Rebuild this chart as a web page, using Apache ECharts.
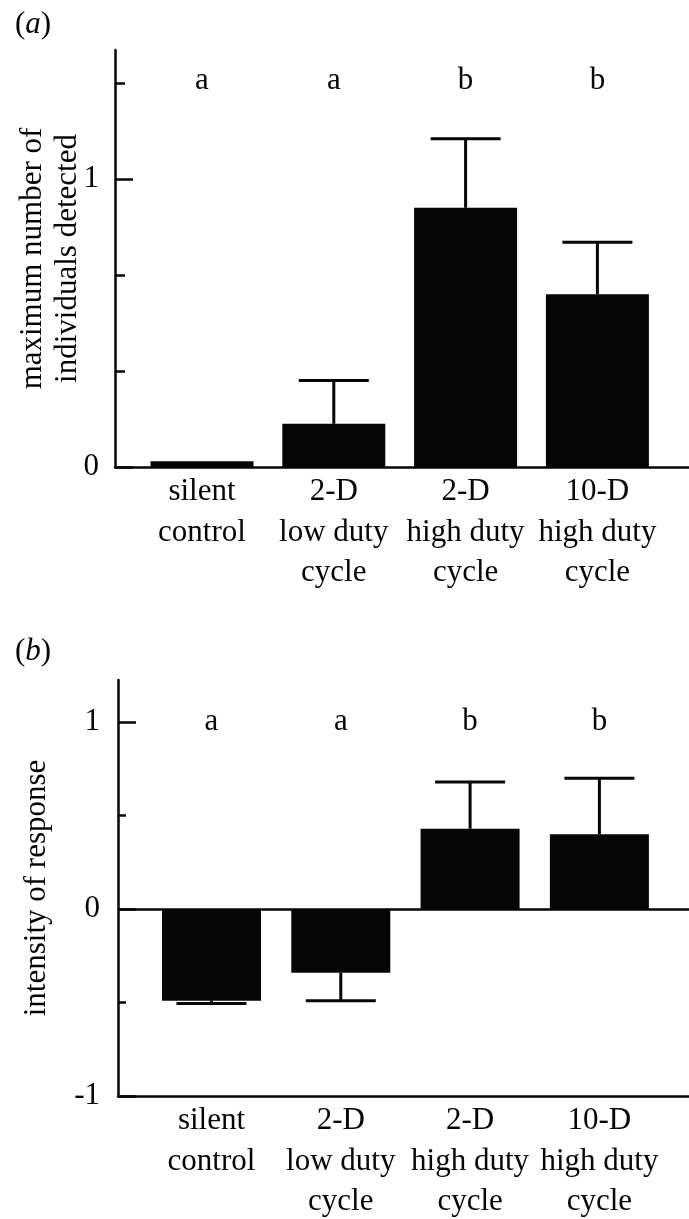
<!DOCTYPE html>
<html>
<head>
<meta charset="utf-8">
<script src="https://cdn.jsdelivr.net/npm/echarts@6/dist/echarts.min.js"></script>
<style>
html,body{margin:0;padding:0;background:#fff;}
#c{width:689px;height:1219px;}
</style>
</head>
<body>
<div id="c"></div>
<script>
// ---- data ----
const categories = ['silent\ncontrol', '2-D\nlow duty\ncycle', '2-D\nhigh duty\ncycle', '10-D\nhigh duty\ncycle'];
const maxIndividuals = [0.02, 0.15, 0.90, 0.60];
const maxIndividualsErr = [0, 0.15, 0.24, 0.18];
const intensity = [-0.49, -0.34, 0.43, 0.40];
const intensityErr = [0.015, 0.15, 0.25, 0.30];
const lettersA = ['a', 'a', 'b', 'b'];
const lettersB = ['a', 'a', 'b', 'b'];
const topTickLabels = [0, 1];
const topMinorTicks = [1/3, 2/3, 4/3];
const bottomTickLabels = [-1, 0, 1];
const bottomMinorTicks = [-0.5, 0.5];

const FONT = "'Liberation Serif', 'Times New Roman', serif";
const BLACK = '#060606';
const FS = 31;

const chart = echarts.init(document.getElementById('c'), null, {renderer: 'canvas'});

function barData(vals) { return vals.map((v, i) => [i + 1, v]); }
function errData(vals, errs) {
  return vals.map((v, i) => [i + 1, v, v >= 0 ? v + errs[i] : v - errs[i]]);
}
function letterData(letters, level) { return letters.map((l, i) => [i + 1, level, l]); }

function renderErr(params, api) {
  const x = api.value(0), m = api.value(1), e = api.value(2);
  if (m === e) return null;
  const p0 = api.coord([x, m]);
  const p1 = api.coord([x, e]);
  const half = 35;
  const st = {stroke: BLACK, lineWidth: 3};
  return {
    type: 'group',
    children: [
      {type: 'line', shape: {x1: p0[0], y1: p0[1], x2: p1[0], y2: p1[1]}, style: st},
      {type: 'line', shape: {x1: p1[0] - half, y1: p1[1], x2: p1[0] + half, y2: p1[1]}, style: st}
    ]
  };
}
function makeLetterRenderer(letters) {
  return function (params, api) {
    const p = api.coord([api.value(0), api.value(1)]);
    return {
      type: 'text',
      x: p[0], y: p[1],
      style: {text: letters[params.dataIndex], font: FS + 'px ' + FONT, fill: BLACK, align: 'center', verticalAlign: 'middle'}
    };
  };
}

const axisLineStyle = {color: BLACK, width: 2.5};

function xAxisDef(gridIndex, min, max) {
  return {
    type: 'value', gridIndex: gridIndex, min: min, max: max,
    splitLine: {show: false},
    axisTick: {show: false},
    axisLine: {show: true, onZero: false, lineStyle: axisLineStyle},
    axisLabel: {
      customValues: [1, 2, 3, 4],
      formatter: v => categories[Math.round(v) - 1] || '',
      fontFamily: FONT, fontSize: FS, color: BLACK, lineHeight: 40.5, margin: 5, align: 'center'
    }
  };
}

const option = {
  animation: false,
  backgroundColor: '#fff',
  title: [
    {text: '({i|a})', left: 10, top: 4, textStyle: {fontFamily: FONT, fontSize: FS, fontWeight: 'normal', color: BLACK,
      rich: {i: {fontFamily: FONT, fontSize: FS, fontStyle: 'italic', color: BLACK}}}},
    {text: '({i|b})', left: 10, top: 631, textStyle: {fontFamily: FONT, fontSize: FS, fontWeight: 'normal', color: BLACK,
      rich: {i: {fontFamily: FONT, fontSize: FS, fontStyle: 'italic', color: BLACK}}}}
  ],
  grid: [
    {left: 115, top: 50, right: 0, height: 417, outerBoundsMode: 'none'},
    {left: 118, top: 680, right: 0, height: 416, outerBoundsMode: 'none'}
  ],
  xAxis: [
    xAxisDef(0, 0.34, 4.695),
    xAxisDef(1, 0.277, 4.693)
  ],
  yAxis: [
    {
      type: 'value', gridIndex: 0, min: 0, max: 1.448, position: 'left',
      splitLine: {show: false},
      axisLine: {show: true, lineStyle: axisLineStyle},
      axisTick: {show: true, inside: true, length: 18, customValues: topTickLabels, lineStyle: {color: BLACK, width: 2.5}},
      axisLabel: {customValues: topTickLabels, fontFamily: FONT, fontSize: FS, color: BLACK, margin: 16},
      name: 'maximum number of\nindividuals detected', nameLocation: 'middle', nameRotate: 90, nameGap: 30,
      nameMoveOverlap: false,
      nameTextStyle: {fontFamily: FONT, fontSize: FS, color: BLACK, lineHeight: 35}
    },
    {
      type: 'value', gridIndex: 0, min: 0, max: 1.448, position: 'left', offset: 0,
      splitLine: {show: false},
      axisLine: {show: false},
      axisTick: {show: true, inside: true, length: 10, customValues: topMinorTicks, lineStyle: {color: BLACK, width: 2.5}},
      axisLabel: {show: false}
    },
    {
      type: 'value', gridIndex: 1, min: -1, max: 1.226, position: 'left',
      splitLine: {show: false},
      axisLine: {show: true, onZero: false, lineStyle: axisLineStyle},
      axisTick: {show: true, inside: true, length: 18, customValues: bottomTickLabels, lineStyle: {color: BLACK, width: 2.5}},
      axisLabel: {customValues: bottomTickLabels, fontFamily: FONT, fontSize: FS, color: BLACK, margin: 18},
      name: 'intensity of response', nameLocation: 'middle', nameRotate: 90, nameGap: 66,
      nameMoveOverlap: false,
      nameTextStyle: {fontFamily: FONT, fontSize: FS, color: BLACK}
    },
    {
      type: 'value', gridIndex: 1, min: -1, max: 1.226, position: 'left', offset: 0,
      splitLine: {show: false},
      axisLine: {show: false},
      axisTick: {show: true, inside: true, length: 8, customValues: bottomMinorTicks, lineStyle: {color: BLACK, width: 2.5}},
      axisLabel: {show: false}
    }
  ],
  series: [
    {
      type: 'bar', xAxisIndex: 0, yAxisIndex: 0, data: barData(maxIndividuals), barWidth: 103,
      itemStyle: {color: BLACK}
    },
    {
      type: 'custom', xAxisIndex: 0, yAxisIndex: 0, data: errData(maxIndividuals, maxIndividualsErr),
      renderItem: renderErr, z: 3
    },
    {
      type: 'custom', xAxisIndex: 0, yAxisIndex: 0, data: letterData(lettersA, 1.34),
      renderItem: makeLetterRenderer(lettersA), z: 3
    },
    {
      type: 'bar', xAxisIndex: 1, yAxisIndex: 2, data: barData(intensity), barWidth: 99,
      itemStyle: {color: BLACK},
      markLine: {
        silent: true, symbol: 'none', label: {show: false},
        lineStyle: {color: BLACK, width: 2.5, type: 'solid'},
        data: [{yAxis: 0}]
      }
    },
    {
      type: 'custom', xAxisIndex: 1, yAxisIndex: 2, data: errData(intensity, intensityErr),
      renderItem: renderErr, z: 3
    },
    {
      type: 'custom', xAxisIndex: 1, yAxisIndex: 2, data: letterData(lettersB, 1.0),
      renderItem: makeLetterRenderer(lettersB), z: 3
    }
  ]
};
chart.setOption(option);
</script>
</body>
</html>
